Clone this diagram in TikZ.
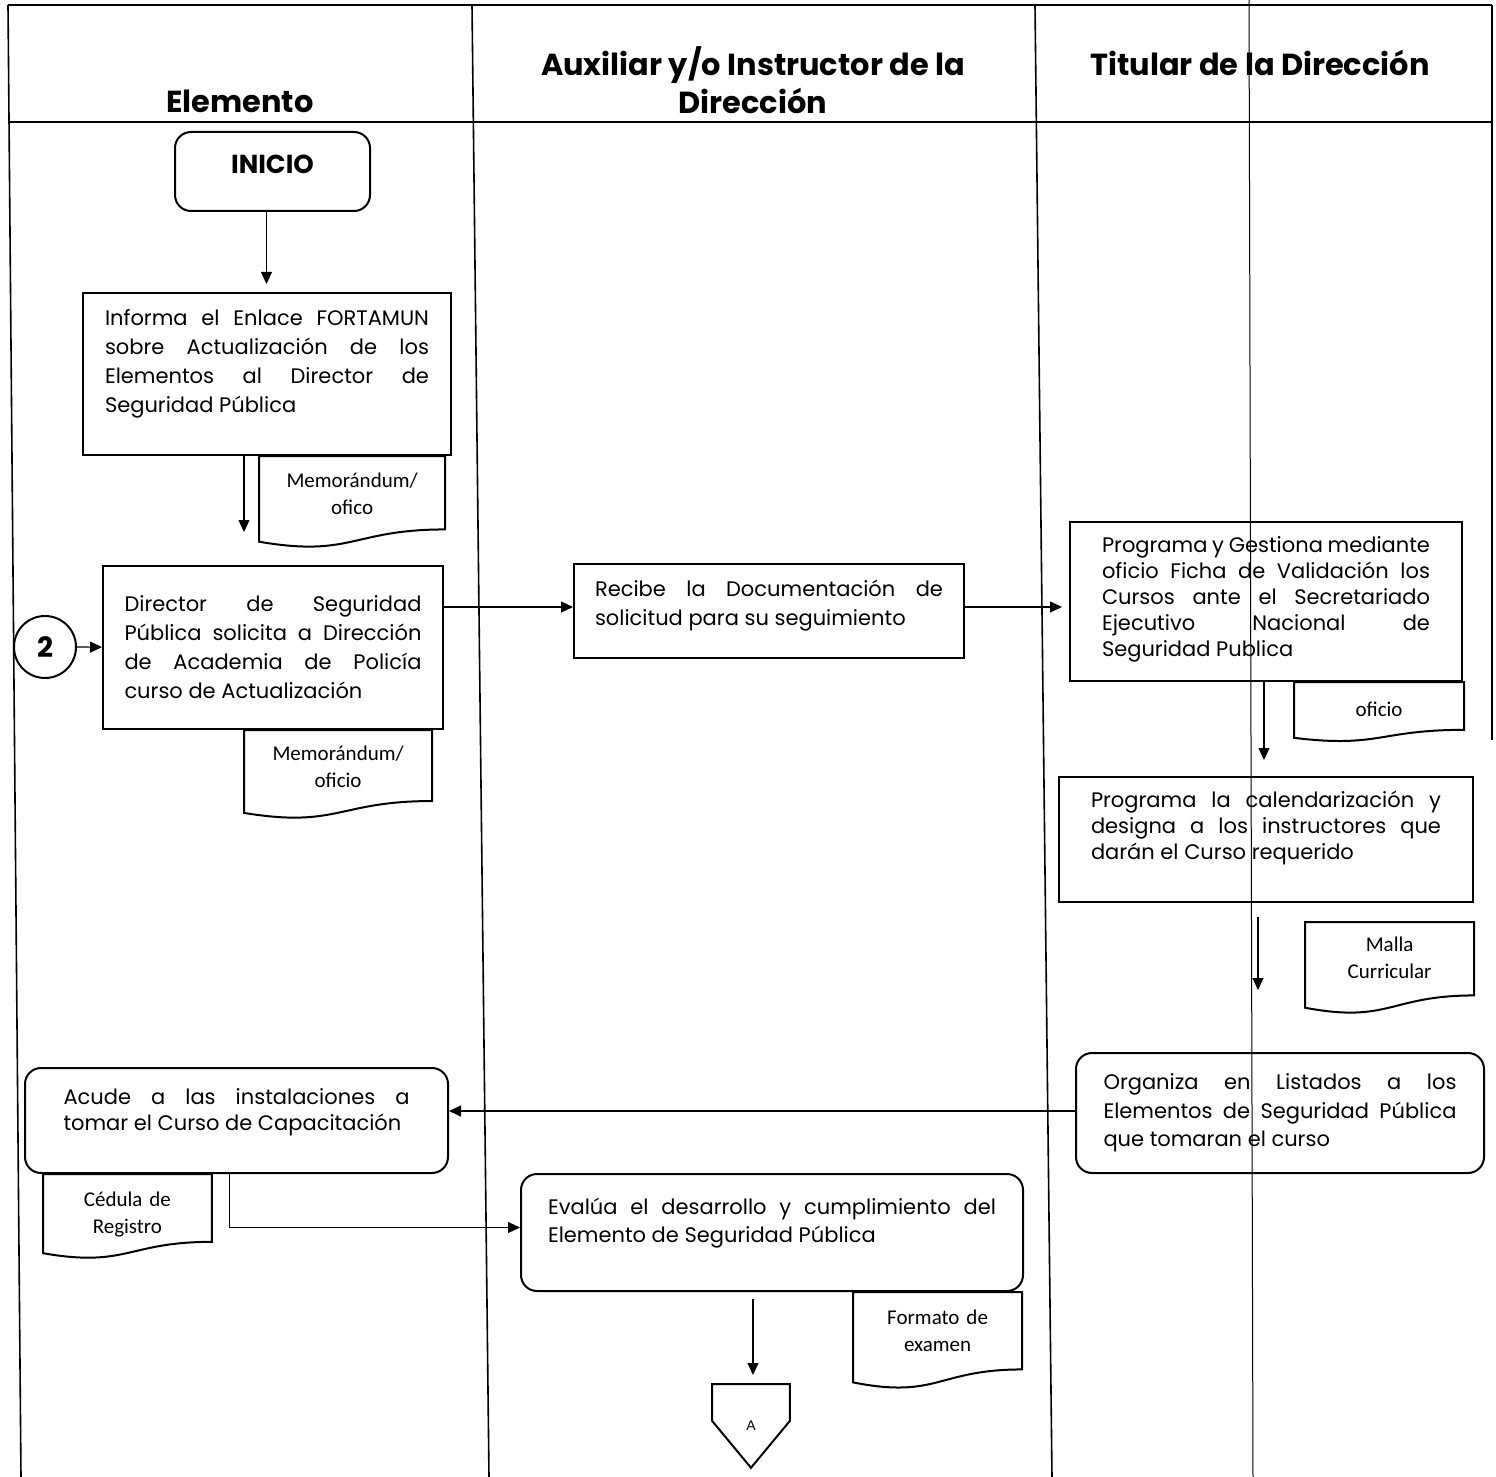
\documentclass[tikz,border=0pt]{standalone}
\usepackage{fontspec}
\setmainfont{Poppins}
\newfontfamily\docfont{Carlito}
\newfontfamily\tagfont{Liberation Sans}
\usetikzlibrary{arrows.meta,positioning,calc}

% extra space under the text of a box
\newcommand{\pad}[1]{\par\kern#1\relax}
% document symbol round a node
\newcommand{\docshape}[1]{%
  \draw[docline] (#1.north west) -- (#1.north east)
    -- ($(#1.north east)!0.8!(#1.south east)$)
    .. controls ($(#1.north)!0.8!(#1.south)$) and ($(#1.north)!1.107!(#1.south)$)
    .. ($(#1.north west)!0.934!(#1.south west)$) -- cycle;}

\tikzset{
  lane/.style={line width=0.8pt},
  thinlane/.style={line width=0.5pt},
  head/.style={align=center, font=\bfseries\fontsize{15.2}{19}\selectfont},
  proc/.style 2 args={draw, line width=1pt, anchor=north west, text width=#1,
    inner xsep=#2, inner ysep=2pt, align=justify,
    font=\fontsize{10.5}{14.5}\selectfont},
  rproc/.style 2 args={proc={#1}{#2}, rounded corners=8pt},
  lead/.style={font=\fontsize{10.5}{#1}\selectfont},
  doc/.style 2 args={text width=#1, minimum height=#2, inner sep=0pt,
    align=center, font=\docfont\fontsize{10.5}{13.5}\selectfont},
  docline/.style={line width=1pt},
  arr/.style={-{Triangle[length=6pt,width=5.5pt]}, line width=0.6pt},
}

\begin{document}
\begin{tikzpicture}[x=0.5pt,y=-0.5pt]
\useasboundingbox (0,0) rectangle (1496,1477);

% lanes
\draw[lane] (8,5) -- (1492,5);
\draw[lane] (8,122) -- (1492,122);
\draw[lane] (8,5) -- (21,1477);
\draw[lane] (472,5) -- (489,1477);
\draw[lane] (1035,5) -- (1052,1477);
\draw[thinlane] (1249,0) -- (1253,1477);
\draw[lane] (1492,5) -- (1492,740);

\node[head] (hElem) at (240,101) {Elemento};
\node[head] (hAux) at (753,80) {Auxiliar y/o Instructor de la\\Dirección};
\node[head] (hTit) at (1260,63) {Titular de la Dirección};

% Elemento
\node[rproc={80pt}{8.75pt}, minimum height=39.5pt, align=center,
  font=\bfseries\fontsize{13}{15}\selectfont] (inicio) at (174,131) {INICIO\pad{7.5pt}};
\node[proc={162pt}{11pt}, minimum height=81pt] (informa) at (82,292)
  {Informa el Enlace FORTAMUN\linebreak sobre Actualización de los\linebreak
   Elementos al Director de\linebreak Seguridad Pública\pad{10pt}};
\node[doc={92.5pt}{45.5pt}, anchor=north east] (memo1) at ([xshift=-3.5pt]informa.south east)
  {Memorándum/\\ofico\pad{8pt}};
\docshape{memo1}
\node[circle, draw, line width=1pt, minimum size=31pt, inner sep=0pt,
  font=\bfseries\fontsize{14}{14}\selectfont] (c2) at (45,647) {2};
\node[proc={148.5pt}{10.75pt}, minimum height=81.5pt] (director) at (102,565)
  {Director de Seguridad\linebreak Pública solicita a Dirección\linebreak
   de Academia de Policía\linebreak curso de Actualización};
\node[doc={93.5pt}{44pt}, anchor=north east] (memo2) at ([xshift=-6pt]director.south east)
  {Memorándum/\\oficio\pad{8pt}};
\docshape{memo2}
\node[rproc={173pt}{19.25pt}, lead=13pt, minimum height=52.5pt] (acude) at (24,1067)
  {Acude a las instalaciones a\linebreak tomar el Curso de Capacitación\pad{8pt}};
\node[doc={84pt}{42pt}, anchor=north west] (cedula) at ([xshift=9.5pt]acude.south west)
  {Cédula de\\Registro\pad{2pt}};
\docshape{cedula}

% Auxiliar y/o Instructor
\node[proc={174pt}{10.5pt}, minimum height=47pt] (recibe) at (573,563)
  {Recibe la Documentación de\linebreak solicitud para su seguimiento\pad{5pt}};
\node[rproc={224pt}{13.5pt}, lead=14pt, minimum height=58.5pt] (evalua) at (520,1173)
  {Evalúa el desarrollo y cumplimiento del\linebreak Elemento de Seguridad Pública\pad{9pt}};
\node[doc={84pt}{48pt}, anchor=north east] (formato) at ([xshift=-1pt]evalua.south east)
  {Formato de\\examen\pad{10pt}};
\docshape{formato}
\node[minimum width=38.5pt, minimum height=41.5pt, inner sep=0pt, anchor=north,
  font=\tagfont\fontsize{7}{8}\selectfont] (offA) at (751,1384) {A};
\draw[docline] (offA.north west) -- (offA.north east)
  -- ($(offA.north east)!0.44!(offA.south east)$) -- (offA.south)
  -- ($(offA.north west)!0.44!(offA.south west)$) -- cycle;

% Titular
\node[proc={164pt}{16pt}, lead=13pt, minimum height=79.5pt] (programa) at (1069,521)
  {Programa y Gestiona mediante\linebreak oficio Ficha de Validación los\linebreak
   Cursos ante el Secretariado\linebreak Ejecutivo Nacional de\linebreak Seguridad Publica\pad{2pt}};
\node[doc={84.5pt}{29.5pt}, anchor=north east] (ofi) at ([xshift=0.5pt]programa.south east)
  {oficio\pad{3pt}};
\docshape{ofi}
\node[proc={175pt}{16pt}, lead=13pt, minimum height=62.5pt] (calendar) at (1058,776)
  {Programa la calendarización y\linebreak designa a los instructores que\linebreak
   darán el Curso requerido\pad{12pt}};
\node[doc={84pt}{45.5pt}, anchor=north east] (malla) at ([yshift=-9.5pt]calendar.south east)
  {Malla\\Curricular\pad{10pt}};
\docshape{malla}
\node[rproc={176.5pt}{13.75pt}, lead=14.25pt, minimum height=60pt] (organiza) at (1075,1052)
  {Organiza en Listados a los\linebreak Elementos de Seguridad Pública\linebreak
   que tomaran el curso};

% connectors
\draw[arr, shorten >=4pt] ([xshift=-3pt]inicio.south) -- ([xshift=-3pt]inicio.south |- informa.north);
\draw[arr, shorten >=16.5pt] ([xshift=-11.5pt]informa.south) -- ([xshift=-11.5pt]informa.south |- director.north);
\draw[arr] (c2) -- (director);
\draw[arr] ([yshift=2pt]recibe.west -| director.east) -- ([yshift=2pt]recibe.west);
\draw[arr, shorten >=3.5pt] ([yshift=2pt]recibe.east) -- ([yshift=2pt]recibe.east -| programa.west);
\draw[arr, shorten >=8pt] ([xshift=-1pt]programa.south) -- ([xshift=-1pt]programa.south |- calendar.north);
\draw[arr, shorten <=7pt, shorten >=31pt] ([xshift=-4pt]calendar.south) -- ([xshift=-4pt]calendar.south |- organiza.north);
\draw[arr] ([yshift=1pt]organiza.west) -- ([yshift=1pt]organiza.west -| acude.east);
\draw[arr] ([xshift=-3.5pt]acude.south) |- ([yshift=2.5pt]evalua.west);
\draw[arr, shorten <=3.5pt, shorten >=4.5pt] ([xshift=-9.5pt]evalua.south) -- ([xshift=-9.5pt]evalua.south |- offA.north);
\end{tikzpicture}
\end{document}
